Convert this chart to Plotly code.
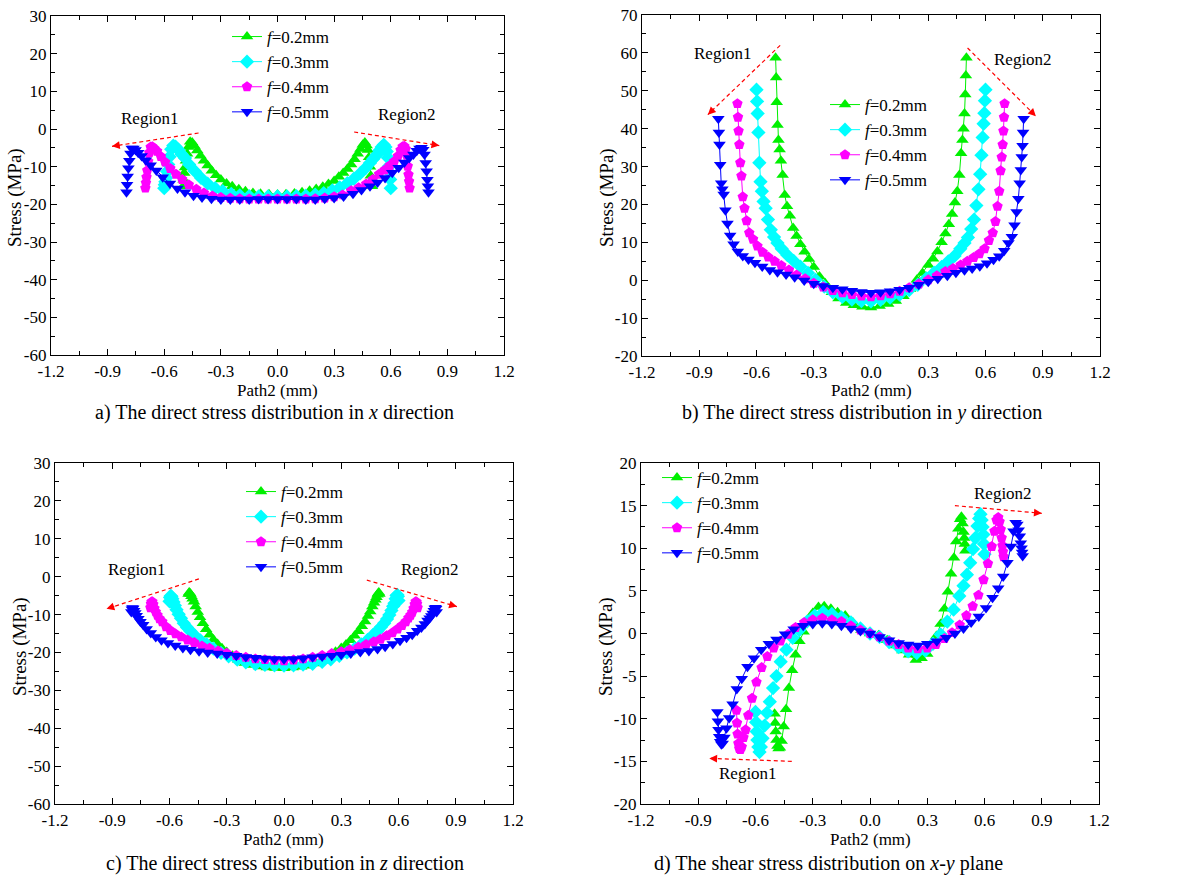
import plotly.graph_objects as go

# ---------------- data ----------------
X02 = [-0.5, -0.497, -0.494, -0.49, -0.485, -0.479, -0.472, -0.463, -0.452, -0.44, -0.425, -0.408, -0.39, -0.37, -0.348, -0.325, -0.3, -0.27, -0.24, -0.205, -0.17, -0.13, -0.09, -0.045, 0.0,
       0.045, 0.09, 0.13, 0.17, 0.205, 0.24, 0.27, 0.3, 0.325, 0.348, 0.37, 0.39, 0.408, 0.425, 0.44, 0.452, 0.463, 0.472, 0.479, 0.485, 0.49, 0.494, 0.497, 0.5]
X03 = [-0.6, -0.597, -0.594, -0.59, -0.585, -0.579, -0.572, -0.563, -0.552, -0.54, -0.525, -0.508, -0.49, -0.468, -0.438, -0.405, -0.37, -0.33, -0.29, -0.245, -0.2, -0.15, -0.1, -0.05, 0.0,
       0.05, 0.1, 0.15, 0.2, 0.245, 0.29, 0.33, 0.37, 0.405, 0.438, 0.468, 0.49, 0.508, 0.525, 0.54, 0.552, 0.563, 0.572, 0.579, 0.585, 0.59, 0.594, 0.597, 0.6]
X04 = [-0.7, -0.697, -0.694, -0.69, -0.685, -0.679, -0.672, -0.663, -0.652, -0.638, -0.618, -0.595, -0.568, -0.538, -0.505, -0.47, -0.43, -0.39, -0.345, -0.3, -0.25, -0.2, -0.15, -0.1, -0.05, 0.0,
       0.05, 0.1, 0.15, 0.2, 0.25, 0.3, 0.345, 0.39, 0.43, 0.47, 0.505, 0.538, 0.568, 0.595, 0.618, 0.638, 0.652, 0.663, 0.672, 0.679, 0.685, 0.69, 0.694, 0.697, 0.7]
X05 = [-0.8, -0.797, -0.794, -0.79, -0.785, -0.779, -0.772, -0.763, -0.752, -0.738, -0.72, -0.698, -0.672, -0.642, -0.608, -0.57, -0.53, -0.49, -0.445, -0.4, -0.35, -0.3, -0.25, -0.2, -0.15, -0.1, -0.05, 0.0,
       0.05, 0.1, 0.15, 0.2, 0.25, 0.3, 0.35, 0.4, 0.445, 0.49, 0.53, 0.57, 0.608, 0.642, 0.672, 0.698, 0.72, 0.738, 0.752, 0.763, 0.772, 0.779, 0.785, 0.79, 0.794, 0.797, 0.8]

# a) sigma_x
A02 = [-15.2, -13.5, -11.7, -10.2, -8.4, -6.6, -4.8, -3.4, -3.6, -4.5, -5.7, -7.1, -8.4, -9.7, -11.1, -12.3, -13.4, -14.5, -15.2, -16.0, -16.5, -17.0, -17.2, -17.3, -17.4,
       -17.3, -17.1, -16.8, -16.4, -15.9, -15.3, -14.6, -13.8, -12.7, -11.7, -10.6, -9.4, -8.0, -6.6, -5.3, -4.2, -3.6, -4.4, -5.6, -7.5, -10.0, -12.4, -13.8, -15.2]
A03 = [-15.7, -14.8, -14.0, -13.0, -11.3, -9.4, -7.4, -5.4, -4.4, -4.7, -5.5, -6.7, -7.7, -9.4, -11.2, -13.0, -14.5, -15.7, -16.5, -17.2, -17.6, -17.8, -17.9, -17.9, -17.9,
       -17.9, -17.8, -17.7, -17.4, -17.0, -16.3, -15.5, -14.4, -13.2, -11.8, -10.3, -9.0, -7.9, -6.9, -5.7, -4.8, -4.2, -4.8, -6.0, -7.6, -9.9, -11.5, -13.4, -15.7]
A04 = [-15.7, -14.3, -12.8, -11.0, -8.6, -6.3, -4.8, -4.7, -5.2, -5.9, -7.3, -8.8, -10.5, -12.0, -13.4, -14.8, -16.0, -17.0, -17.8, -18.2, -18.4, -18.5, -18.6, -18.6, -18.6, -18.6,
       -18.6, -18.6, -18.6, -18.5, -18.3, -18.0, -17.5, -16.4, -15.6, -14.6, -13.4, -12.0, -10.9, -9.7, -8.6, -7.2, -5.6, -4.7, -4.6, -5.3, -7.0, -9.9, -12.1, -13.9, -15.7]
A05 = [-16.8, -14.8, -12.6, -10.4, -8.4, -6.5, -5.2, -5.2, -5.6, -6.3, -7.2, -8.3, -9.6, -11.0, -12.8, -14.5, -15.8, -16.8, -17.7, -18.2, -18.5, -18.7, -18.7, -18.7, -18.7, -18.6, -18.6, -18.6,
       -18.6, -18.6, -18.7, -18.7, -18.5, -18.3, -17.9, -17.2, -16.2, -15.2, -14.2, -13.0, -11.6, -10.3, -8.9, -7.7, -6.8, -5.8, -5.2, -5.0, -5.5, -6.8, -9.0, -11.2, -13.5, -15.2, -16.8]

# b) sigma_y
B02 = [58.7, 53.5, 47.0, 41.0, 37.0, 34.5, 31.5, 27.8, 22.5, 19.5, 17.0, 13.8, 11.7, 9.5, 7.5, 5.6, 3.5, 1.0, -0.8, -3.2, -4.8, -6.0, -6.6, -7.0, -7.2,
       -6.8, -6.3, -5.5, -4.2, -2.3, 0.1, 1.9, 4.0, 5.7, 7.6, 10.0, 12.3, 14.8, 17.5, 20.5, 23.5, 27.8, 33.5, 37.0, 40.0, 44.0, 49.0, 54.0, 58.7]
B03 = [50.3, 47.2, 44.0, 39.0, 31.0, 26.0, 23.5, 20.8, 19.0, 16.0, 13.3, 11.4, 9.8, 8.3, 6.6, 5.1, 3.6, 1.9, 0.1, -1.7, -3.2, -4.4, -5.1, -5.5, -5.6,
       -5.2, -4.6, -3.8, -2.6, -1.2, 0.5, 2.0, 3.5, 5.0, 6.4, 8.3, 9.8, 11.3, 13.5, 16.0, 19.7, 24.0, 28.0, 33.0, 37.7, 41.3, 44.1, 47.4, 50.3]
B04 = [46.6, 43.0, 39.4, 35.8, 31.0, 27.5, 22.0, 19.0, 15.7, 12.5, 10.8, 9.0, 7.4, 6.1, 5.0, 3.9, 2.7, 1.4, 0.4, -0.8, -1.8, -2.7, -3.3, -3.8, -4.2, -4.4,
       -4.1, -3.6, -2.9, -2.0, -1.0, 0.1, 1.2, 2.3, 3.1, 4.0, 5.0, 6.0, 7.0, 8.3, 10.5, 12.5, 15.5, 19.5, 23.5, 28.9, 32.5, 35.8, 39.4, 43.0, 46.6]
B05 = [42.6, 39.0, 35.8, 30.5, 25.6, 24.0, 22.6, 18.5, 15.0, 11.8, 9.5, 7.6, 6.4, 5.5, 4.6, 3.6, 2.7, 2.1, 1.5, 0.8, -0.1, -0.9, -1.5, -2.0, -2.4, -2.8, -3.1, -3.3,
       -3.2, -2.9, -2.5, -2.0, -1.2, -0.4, 0.4, 1.2, 2.0, 2.6, 3.1, 3.7, 4.5, 5.4, 6.3, 7.8, 9.8, 11.5, 14.5, 18.0, 21.5, 25.6, 29.1, 32.5, 35.5, 39.0, 42.6]

# c) sigma_z
C02 = [-4.6, -4.2, -4.3, -4.6, -5.2, -5.8, -6.6, -7.9, -9.3, -10.7, -12.3, -13.9, -15.3, -16.6, -17.8, -18.9, -19.9, -20.9, -21.9, -22.8, -23.3, -23.7, -24.0, -24.1, -24.2,
       -24.0, -23.8, -23.5, -22.9, -22.2, -21.0, -19.8, -18.8, -17.9, -16.8, -15.6, -14.4, -13.1, -11.8, -10.4, -9.2, -7.9, -6.9, -6.1, -5.4, -4.8, -4.4, -4.2, -4.6]
C03 = [-6.5, -5.5, -5.1, -5.2, -5.8, -6.7, -7.6, -8.7, -9.9, -11.0, -12.3, -13.4, -14.4, -15.5, -16.8, -17.9, -19.0, -20.1, -21.0, -21.9, -22.6, -23.1, -23.3, -23.4, -23.5,
       -23.4, -23.2, -23.0, -22.5, -21.8, -20.9, -20.0, -19.0, -17.9, -16.7, -15.3, -14.3, -13.3, -12.3, -11.2, -10.1, -8.9, -7.8, -7.0, -5.8, -5.0, -4.8, -5.2, -6.3]
C04 = [-8.2, -7.2, -6.7, -6.6, -7.3, -8.4, -9.3, -10.2, -11.1, -11.9, -13.2, -14.2, -15.1, -15.9, -16.7, -17.4, -18.3, -18.9, -19.6, -20.2, -20.8, -21.3, -21.7, -21.9, -22.1, -22.2,
       -22.0, -21.7, -21.3, -20.8, -20.3, -19.8, -19.3, -18.6, -17.9, -17.2, -16.5, -15.6, -14.8, -13.8, -12.9, -11.9, -10.9, -10.2, -9.4, -8.4, -7.3, -6.6, -6.7, -7.2, -8.2]
C05 = [-9.3, -8.6, -8.3, -8.4, -9.0, -9.6, -10.3, -11.1, -11.9, -12.7, -13.8, -14.9, -15.9, -16.8, -17.5, -18.2, -18.8, -19.3, -19.7, -20.0, -20.3, -20.6, -20.9, -21.2, -21.4, -21.6, -21.7, -21.8,
       -21.7, -21.5, -21.3, -21.1, -20.9, -20.6, -20.3, -19.9, -19.6, -19.1, -18.5, -17.8, -16.9, -16.1, -15.3, -14.3, -13.4, -12.5, -11.6, -11.0, -10.4, -9.7, -9.0, -8.4, -8.2, -8.5, -9.3]

# d) tau_xy
D02 = [-9.4, -10.5, -11.5, -12.5, -13.2, -13.5, -13.4, -12.6, -10.9, -8.9, -6.4, -4.3, -2.5, -0.9, 0.2, 1.3, 2.4, 3.1, 3.2, 2.9, 2.5, 2.1, 1.3, 0.4, 0.0,
       -0.2, -0.8, -1.4, -2.0, -2.5, -3.1, -2.9, -2.4, -1.5, -0.3, 1.1, 2.9, 4.9, 7.0, 8.9, 10.8, 12.3, 13.4, 13.7, 12.9, 11.9, 11.2, 10.5, 9.7]
D03 = [-9.2, -10.4, -11.5, -12.5, -13.3, -13.9, -13.3, -12.3, -10.8, -9.3, -8.0, -6.4, -5.0, -3.3, -1.9, -0.5, 0.4, 1.4, 2.1, 2.5, 2.3, 1.9, 1.3, 0.6, 0.0,
       -0.4, -1.0, -1.6, -2.1, -2.3, -2.0, -1.2, -0.1, 1.4, 2.8, 4.4, 5.6, 6.9, 8.3, 9.9, 11.2, 12.6, 13.5, 14.0, 13.3, 12.5, 11.6, 10.5, 9.3]
D04 = [-9.0, -10.5, -11.8, -12.9, -13.5, -13.6, -13.3, -12.2, -11.3, -9.6, -7.6, -5.7, -4.0, -2.7, -1.7, -0.9, -0.1, 0.7, 1.3, 1.6, 1.8, 1.6, 1.4, 0.9, 0.4, 0.0,
       -0.4, -0.9, -1.3, -1.7, -1.8, -1.7, -1.3, -0.6, 0.1, 1.0, 2.1, 3.2, 4.5, 6.3, 8.2, 10.2, 12.0, 13.3, 13.6, 13.1, 12.2, 11.2, 10.3, 9.6, 9.0]
D05 = [-9.2, -10.3, -11.3, -12.1, -12.7, -13.0, -12.9, -12.2, -11.1, -9.9, -8.3, -6.5, -5.3, -3.9, -2.9, -1.9, -1.2, -0.7, -0.1, 0.5, 0.9, 1.1, 1.2, 1.1, 0.9, 0.6, 0.3, 0.0,
       -0.4, -0.8, -1.1, -1.3, -1.4, -1.2, -0.9, -0.5, 0.0, 0.6, 1.3, 2.0, 3.0, 4.2, 5.3, 6.7, 8.3, 10.2, 12.0, 13.0, 12.8, 12.1, 11.4, 10.6, 10.0, 9.5, 9.1]

SERIES_NAMES = ["<i>f</i>=0.2mm", "<i>f</i>=0.3mm", "<i>f</i>=0.4mm", "<i>f</i>=0.5mm"]
X_NODES = [X02, X03, X04, X05]
PANEL_Y = {"a": [A02, A03, A04, A05], "b": [B02, B03, B04, B05],
           "c": [C02, C03, C04, C05], "d": [D02, D03, D04, D05]}

X_TICKS = [-1.2, -0.9, -0.6, -0.3, 0.0, 0.3, 0.6, 0.9, 1.2]
X_TICKTEXT = ["-1.2", "-0.9", "-0.6", "-0.3", "0.0", "0.3", "0.6", "0.9", "1.2"]
Y_TICKS = {"a": list(range(-60, 31, 10)), "b": list(range(-20, 71, 10)),
           "c": list(range(-60, 31, 10)), "d": list(range(-20, 21, 5))}
Y_RANGE = {"a": [-60, 30], "b": [-20, 70], "c": [-60, 30], "d": [-20, 20]}
Y_MINOR = {"a": 5, "b": 5, "c": 5, "d": 2.5}

CAPTIONS = {"a": "a) The direct stress distribution in <i>x</i> direction",
            "b": "b) The direct stress distribution in <i>y</i> direction",
            "c": "c) The direct stress distribution in <i>z</i> direction",
            "d": "d) The shear stress distribution on <i>x</i>-<i>y</i> plane"}

# region labels (data coords) and arrows (tail -> head, data coords)
REGION_TEXT = {"a": [("Region1", -0.674, 2.9), ("Region2", 0.684, 3.8)],
               "b": [("Region1", -0.777, 59.8), ("Region2", 0.798, 58.2)],
               "c": [("Region1", -0.769, 1.9), ("Region2", 0.764, 1.9)],
               "d": [("Region2", 0.698, 16.4), ("Region1", -0.637, -16.4)]}
REGION_ARROWS = {"a": [(-0.418, -1.06, -0.877, -4.6), (0.406, -0.8, 0.857, -4.4)],
                 "b": [(-0.476, 62.0, -0.855, 43.7), (0.506, 61.3, 0.864, 43.3)],
                 "c": [(-0.446, -0.6, -0.93, -8.5), (0.434, -0.9, 0.906, -7.9)],
                 "d": [(0.445, 15.0, 0.9, 14.1), (-0.41, -15.0, -0.842, -14.65)]}

for k, ys in PANEL_Y.items():
    for xs, y in zip(X_NODES, ys):
        assert len(xs) == len(y), (k, len(xs), len(y))

# ---------------- styling ----------------
COLORS = ["#00F000", "#00FFFF", "#FF00FF", "#0000FF"]
SYMBOLS = ["triangle-up", "diamond", "pentagon", "triangle-down"]
MSIZES = [11, 11, 11, 11]
FONT = "Liberation Serif"

# layout geometry (paper domains)
PANELS = {
    "a": dict(ax="", dx=[51 / 1186, 504 / 1186], dy=[1 - 355 / 875, 1 - 16 / 875], legend="legend"),
    "b": dict(ax="2", dx=[642 / 1186, 1100 / 1186], dy=[1 - 356 / 875, 1 - 15 / 875], legend="legend2"),
    "c": dict(ax="3", dx=[55 / 1186, 513 / 1186], dy=[1 - 804 / 875, 1 - 463 / 875], legend="legend3"),
    "d": dict(ax="4", dx=[641 / 1186, 1099 / 1186], dy=[1 - 804 / 875, 1 - 463 / 875], legend="legend4"),
}
LEGEND_POS = {"a": (235, 32), "b": (833, 100), "c": (249, 487), "d": (665, 473)}
CAPTION_POS = {"a": (274, 412), "b": (862, 412), "c": (285, 863), "d": (828, 863)}
XTITLE_POS = {"a": (277, 390), "b": (871, 390), "c": (283, 839), "d": (870, 839)}
YTITLE_POS = {"a": (15, 198), "b": (607, 198), "c": (20, 647), "d": (606, 647)}

fig = go.Figure()
layout = dict(template="none", width=1186, height=875, margin=dict(l=0, r=0, t=0, b=0, autoexpand=False),
              paper_bgcolor="white", plot_bgcolor="white",
              font=dict(family=FONT, size=17, color="black"), showlegend=True)
annotations = []
shapes = []

for key, p in PANELS.items():
    ax = p["ax"]
    xname, yname = "xaxis" + ax, "yaxis" + ax
    xref, yref = "x" + ax, "y" + ax
    for i in range(4):
        fig.add_trace(go.Scatter(
            x=X_NODES[i], y=PANEL_Y[key][i], mode="lines+markers", name=SERIES_NAMES[i],
            line=dict(color=COLORS[i], width=1),
            marker=dict(symbol=SYMBOLS[i], size=MSIZES[i], color=COLORS[i], line=dict(width=0)),
            xaxis=xref, yaxis=yref, legend=p["legend"]))
    common = dict(showline=True, linecolor="black", linewidth=1.3, mirror="allticks",
                  ticks="inside", ticklen=6, tickwidth=1.2, tickcolor="black",
                  showgrid=False, zeroline=False, automargin=False,
                  tickfont=dict(family=FONT, size=17, color="black"))
    layout[xname] = dict(domain=p["dx"], range=[-1.2, 1.2], anchor=yref,
                         tickmode="array", tickvals=X_TICKS, ticktext=X_TICKTEXT,
                         minor=dict(ticks="inside", ticklen=3.5, tickwidth=1.1, tickcolor="black",
                                    tickmode="linear", tick0=-1.2, dtick=0.15, showgrid=False),
                         **common)
    yt = Y_TICKS[key]
    layout[yname] = dict(domain=p["dy"], range=Y_RANGE[key], anchor=xref,
                         tickmode="array", tickvals=yt, ticktext=[str(v) for v in yt],
                         minor=dict(ticks="inside", ticklen=3.5, tickwidth=1.1, tickcolor="black",
                                    tickmode="linear", tick0=Y_RANGE[key][0], dtick=Y_MINOR[key],
                                    showgrid=False),
                         **common)
    lx, ly = LEGEND_POS[key]
    layout[p["legend"]] = dict(x=(lx - 8) / 1186, y=1 - (ly - 13) / 875, xanchor="left", yanchor="top",
                               bgcolor="rgba(0,0,0,0)", borderwidth=0,
                               font=dict(family=FONT, size=17, color="black"),
                               itemwidth=30, tracegroupgap=0)
    # captions, axis titles
    cx, cy = CAPTION_POS[key]
    annotations.append(dict(text=CAPTIONS[key], x=cx / 1186, y=1 - cy / 875, xref="paper", yref="paper",
                            showarrow=False, xanchor="center", yanchor="middle",
                            font=dict(family=FONT, size=20, color="black")))
    tx, ty = XTITLE_POS[key]
    annotations.append(dict(text="Path2 (mm)", x=tx / 1186, y=1 - ty / 875, xref="paper", yref="paper",
                            showarrow=False, xanchor="center", yanchor="middle",
                            font=dict(family=FONT, size=17, color="black")))
    tx, ty = YTITLE_POS[key]
    annotations.append(dict(text="Stress (MPa)", x=tx / 1186, y=1 - ty / 875, xref="paper", yref="paper",
                            showarrow=False, xanchor="center", yanchor="middle", textangle=-90,
                            font=dict(family=FONT, size=19, color="black")))
    for txt, rx, ry in REGION_TEXT[key]:
        annotations.append(dict(text=txt, x=rx, y=ry, xref=xref, yref=yref, showarrow=False,
                                xanchor="center", yanchor="middle",
                                font=dict(family=FONT, size=17, color="black")))
    for (x0, y0, x1, y1) in REGION_ARROWS[key]:
        shapes.append(dict(type="line", x0=x0, y0=y0, x1=x1, y1=y1, xref=xref, yref=yref,
                           line=dict(color="#FF0000", width=1.2, dash="4px,3px")))
        annotations.append(dict(text="", x=x1, y=y1, ax=x1 + 0.1 * (x0 - x1), ay=y1 + 0.1 * (y0 - y1),
                                xref=xref, yref=yref, axref=xref, ayref=yref, showarrow=True,
                                arrowhead=2, arrowsize=1.3, arrowwidth=1.2, arrowcolor="#FF0000"))

layout["annotations"] = annotations
layout["shapes"] = shapes
fig.update_layout(**layout)
fig.write_html("out.html")
